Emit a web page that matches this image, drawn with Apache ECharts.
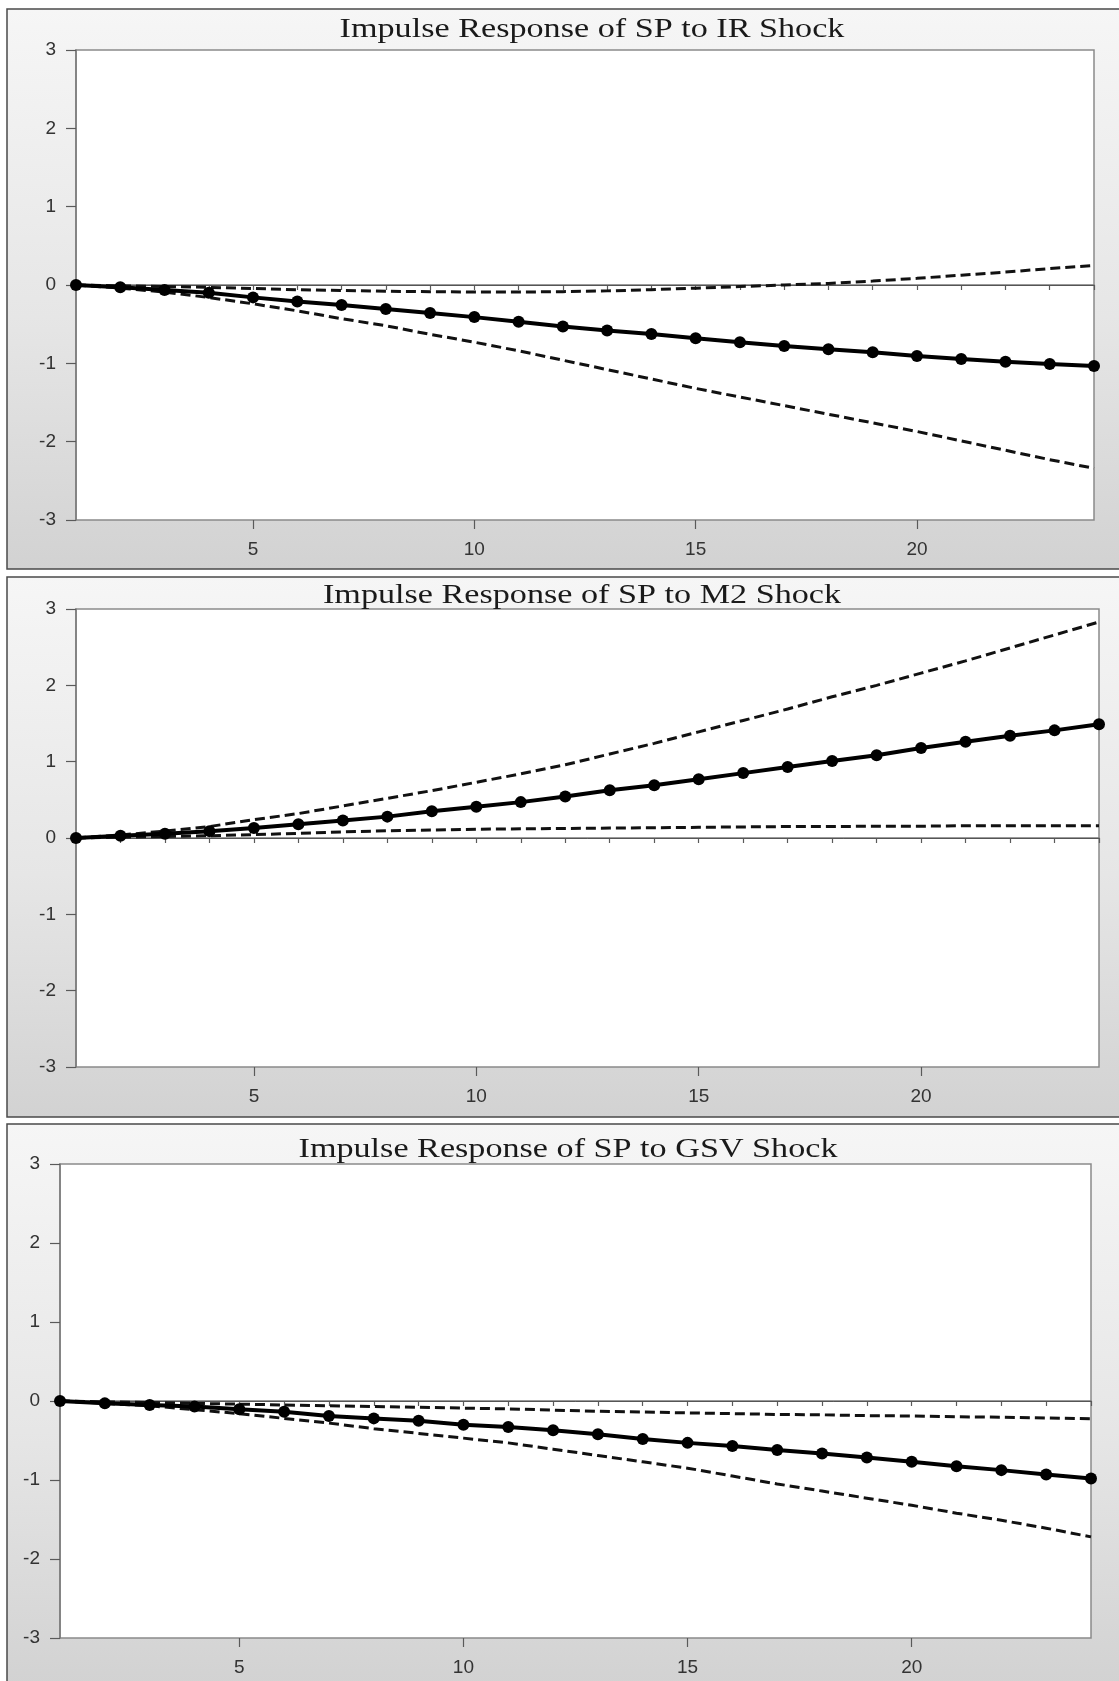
<!DOCTYPE html>
<html>
<head>
<meta charset="utf-8">
<script src="https://cdn.jsdelivr.net/npm/echarts@6/dist/echarts.min.js"></script>
<style>
html,body{margin:0;padding:0;background:#fff;}
#chart{width:1119px;height:1681px;}
</style>
</head>
<body>
<div id="chart"></div>
<script>
// ---- data ----
const periods = [1,2,3,4,5,6,7,8,9,10,11,12,13,14,15,16,17,18,19,20,21,22,23,24];
const xTickLabels = [5,10,15,20];
const yTickLabels = [-3,-2,-1,0,1,2,3];
const titles = [
  'Impulse Response of SP to IR Shock',
  'Impulse Response of SP to M2 Shock',
  'Impulse Response of SP to GSV Shock'
];
const irResp  = [0,-0.03,-0.064,-0.10,-0.158,-0.21,-0.255,-0.307,-0.358,-0.41,-0.47,-0.53,-0.58,-0.626,-0.68,-0.73,-0.78,-0.82,-0.86,-0.905,-0.945,-0.98,-1.01,-1.035];
const irUpper = [0,-0.01,-0.02,-0.03,-0.045,-0.06,-0.07,-0.08,-0.085,-0.09,-0.09,-0.085,-0.075,-0.06,-0.04,-0.02,0.0,0.02,0.05,0.085,0.125,0.165,0.21,0.25];
const irLower = [0,-0.04,-0.09,-0.16,-0.24,-0.33,-0.43,-0.52,-0.63,-0.73,-0.84,-0.96,-1.08,-1.20,-1.32,-1.43,-1.54,-1.65,-1.76,-1.87,-1.99,-2.11,-2.23,-2.34];
const m2Resp  = [0,0.03,0.057,0.09,0.13,0.18,0.23,0.28,0.35,0.41,0.47,0.545,0.625,0.69,0.77,0.85,0.93,1.01,1.085,1.18,1.26,1.34,1.41,1.49];
const m2Upper = [0,0.04,0.09,0.15,0.24,0.32,0.42,0.52,0.62,0.73,0.84,0.96,1.10,1.24,1.39,1.54,1.69,1.85,2.00,2.16,2.32,2.49,2.66,2.83];
const m2Lower = [0,0.01,0.02,0.03,0.045,0.06,0.08,0.095,0.105,0.115,0.12,0.125,0.13,0.135,0.14,0.145,0.15,0.15,0.155,0.155,0.16,0.16,0.16,0.16];
const gsvResp  = [0,-0.03,-0.05,-0.07,-0.105,-0.135,-0.19,-0.22,-0.25,-0.30,-0.33,-0.37,-0.42,-0.48,-0.53,-0.57,-0.62,-0.665,-0.715,-0.77,-0.825,-0.875,-0.93,-0.98];
const gsvUpper = [0,-0.01,-0.02,-0.03,-0.04,-0.05,-0.06,-0.07,-0.08,-0.09,-0.10,-0.115,-0.13,-0.14,-0.15,-0.16,-0.17,-0.175,-0.185,-0.19,-0.20,-0.205,-0.215,-0.225];
const gsvLower = [0,-0.03,-0.06,-0.11,-0.16,-0.22,-0.28,-0.35,-0.41,-0.47,-0.53,-0.61,-0.69,-0.77,-0.85,-0.95,-1.05,-1.14,-1.23,-1.32,-1.42,-1.51,-1.61,-1.72];

const panels = [
  {resp: irResp, up: irUpper, lo: irLower},
  {resp: m2Resp, up: m2Upper, lo: m2Lower},
  {resp: gsvResp, up: gsvUpper, lo: gsvLower}
];

// ---- layout ----
const grids = [
  {left: 76, top: 50, width: 1018, height: 470},
  {left: 76, top: 609, width: 1023, height: 458},
  {left: 60, top: 1164, width: 1031, height: 474}
];
const frames = [
  {y: 9, h: 560, tx: 592, ty: 44},
  {y: 577, h: 540, tx: 582, ty: 610},
  {y: 1124, h: 560, tx: 568, ty: 1164}
];

const pairs = arr => periods.map((p, i) => [p, arr[i]]);

const xAxes = [], yAxes = [], series = [], graphics = [];
grids.forEach((g, k) => {
  const f = frames[k];
  graphics.push({
    type: 'rect', z: -100,
    shape: {x: 7, y: f.y, width: 1120, height: f.h},
    style: {
      fill: new echarts.graphic.LinearGradient(0, 0, 0, 1, [
        {offset: 0, color: '#f6f6f6'},
        {offset: 0.55, color: '#e6e6e6'},
        {offset: 1, color: '#d2d2d2'}
      ]),
      stroke: '#4a4a4a', lineWidth: 1.5
    }
  });
  graphics.push({
    type: 'text', z: 50, x: f.tx, y: f.ty, scaleX: 1.22, scaleY: 1,
    style: {
      text: titles[k], fontFamily: 'Liberation Serif', fontSize: 28,
      fill: '#1a1a1a', textAlign: 'center', textVerticalAlign: 'bottom'
    }
  });
  // minor ticks axis
  xAxes.push({
    type: 'value', gridIndex: k, min: 1, max: 24, interval: 1, position: 'bottom',
    axisLine: {show: true, lineStyle: {color: '#7a7a7a', width: 1.5}},
    axisTick: {show: true, inside: false, length: 5, lineStyle: {color: '#5a5a5a', width: 1.2}},
    axisLabel: {show: false},
    splitLine: {show: false}
  });
  // labelled ticks axis
  xAxes.push({
    type: 'value', gridIndex: k, min: 1, max: 24, position: 'bottom',
    axisLine: {show: false},
    axisTick: {show: true, length: 9, customValues: xTickLabels, lineStyle: {color: '#5a5a5a', width: 1.2}},
    axisLabel: {show: true, customValues: xTickLabels, margin: 20,
      fontFamily: 'Liberation Sans', fontSize: 19, color: '#333'},
    splitLine: {show: false}
  });
  yAxes.push({
    type: 'value', gridIndex: k, min: -3, max: 3, interval: 1,
    axisLine: {show: true, lineStyle: {color: '#7a7a7a', width: 1.5}},
    axisTick: {show: true, length: 10, lineStyle: {color: '#5a5a5a', width: 1.2}},
    axisLabel: {show: true, margin: 20, fontFamily: 'Liberation Sans', fontSize: 19, color: '#333',
      customValues: yTickLabels},
    splitLine: {show: false}
  });
  const d = panels[k];
  const dashStyle = {color: '#111', width: 3, type: [10, 5]};
  series.push({
    type: 'line', xAxisIndex: 2 * k, yAxisIndex: k, data: pairs(d.up),
    showSymbol: false, symbol: 'none', lineStyle: dashStyle, silent: true, z: 3
  });
  series.push({
    type: 'line', xAxisIndex: 2 * k, yAxisIndex: k, data: pairs(d.lo),
    showSymbol: false, symbol: 'none', lineStyle: dashStyle, silent: true, z: 3
  });
  series.push({
    type: 'line', xAxisIndex: 2 * k, yAxisIndex: k, data: pairs(d.resp),
    symbol: 'circle', symbolSize: 12, showSymbol: true, clip: false,
    itemStyle: {color: '#000'}, lineStyle: {color: '#000', width: 4},
    silent: true, z: 4,
    markLine: {
      silent: true, symbol: ['none', 'none'], label: {show: false},
      lineStyle: {color: '#555', width: 1, type: 'solid'},
      data: [{yAxis: 0}], z: 2, animation: false
    }
  });
});

const chart = echarts.init(document.getElementById('chart'), null, {renderer: 'canvas'});
chart.setOption({
  animation: false,
  backgroundColor: '#ffffff',
  grid: grids.map(g => Object.assign({show: true, backgroundColor: '#ffffff',
    borderColor: '#8a8a8a', borderWidth: 1.5, containLabel: false}, g)),
  xAxis: xAxes,
  yAxis: yAxes,
  graphic: graphics,
  series: series
});
</script>
</body>
</html>
